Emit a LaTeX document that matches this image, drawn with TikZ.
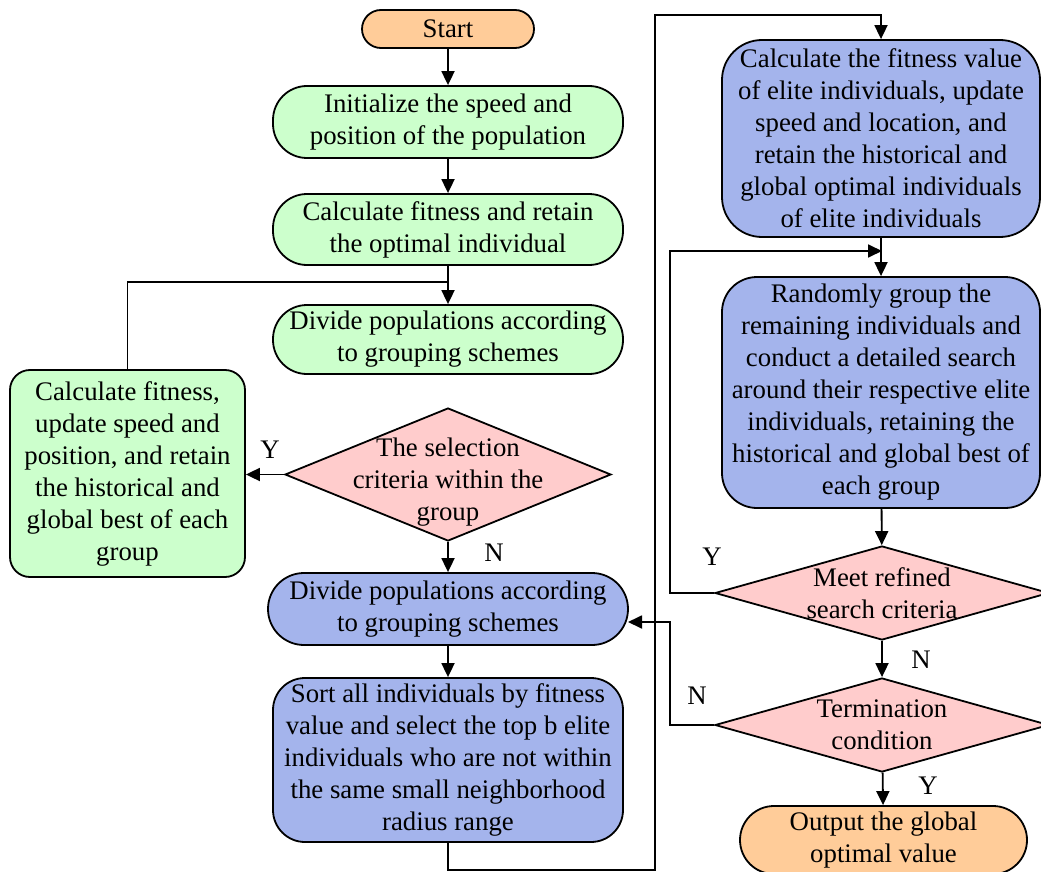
\documentclass[tikz,border=0pt]{standalone}
\usepackage{fontspec}
\setmainfont{Liberation Serif}
\usetikzlibrary{shapes.geometric,arrows.meta}
\definecolor{cgreen}{RGB}{204,255,204}
\definecolor{corange}{RGB}{255,204,153}
\definecolor{cpink}{RGB}{255,204,204}
\definecolor{cblue}{RGB}{164,180,236}
\begin{document}
\begin{tikzpicture}[x=1pt,y=1pt,
  font=\fontsize{26.8}{32}\selectfont,
  box/.style={draw, line width=1.8pt, rectangle, inner sep=0pt, align=center},
  dia/.style={draw, line width=1.8pt, diamond, inner sep=0pt, fill=cpink},
  txt/.style={inner sep=0pt, align=center},
  line/.style={line width=1.8pt},
  arr/.style={line width=1.8pt, -{Triangle[length=14pt,width=13pt]}},
  lbl/.style={inner sep=0pt}
]
\useasboundingbox (0,0) rectangle (1041,-872);
% nodes
\node[box, fill=corange, rounded corners=19pt, minimum width=172pt, minimum height=38pt] (start) at (448,-29) {Start};
\node[box, fill=cgreen, rounded corners=34pt, minimum width=350pt, minimum height=72pt] (init) at (448,-122) {Initialize the speed and\\position of the population};
\node[box, fill=cgreen, rounded corners=34pt, minimum width=350pt, minimum height=71pt] (calc) at (448,-229.5) {Calculate fitness and retain\\the optimal individual};
\node[box, fill=cgreen, rounded corners=34pt, minimum width=350pt, minimum height=69pt] (div1) at (448,-339.5) {Divide populations according\\to grouping schemes};
\node[dia, minimum width=326pt, minimum height=133pt] (d1) at (448,-474.5) {};
\node[txt] at (448,-482) {The selection\\criteria within the\\group};
\node[box, fill=cgreen, rounded corners=20pt, minimum width=235pt, minimum height=207pt] (left) at (127.5,-473.5) {Calculate fitness,\\update speed and\\position, and retain\\the historical and\\global best of each\\group};
\node[box, fill=cblue, rounded corners=36pt, minimum width=360pt, minimum height=72pt] (div2) at (448,-609) {Divide populations according\\to grouping schemes};
\node[box, fill=cblue, rounded corners=32pt, minimum width=350pt, minimum height=164pt] (sort) at (448,-760) {Sort all individuals by fitness\\value and select the top b elite\\individuals who are not within\\the same small neighborhood\\radius range};
\node[box, fill=cblue, rounded corners=40pt, minimum width=318pt, minimum height=197pt] (elite) at (881,-138.5) {Calculate the fitness value\\of elite individuals, update\\speed and location, and\\retain the historical and\\global optimal individuals\\of elite individuals};
\node[box, fill=cblue, rounded corners=35pt, minimum width=318pt, minimum height=231pt] (rand) at (881,-392.5) {Randomly group the\\remaining individuals and\\conduct a detailed search\\around their respective elite\\individuals, retaining the\\historical and global best of\\each group};
\node[dia, minimum width=334pt, minimum height=94pt] (meet) at (882,-593) {};
\node[txt] at (882,-593) {Meet refined\\search criteria};
\node[dia, minimum width=334pt, minimum height=94pt] (term) at (882,-725) {};
\node[txt] at (882,-725) {Termination\\condition};
\node[box, fill=corange, rounded corners=34pt, minimum width=287pt, minimum height=68pt] (out) at (883.5,-840) {Output the global\\optimal value};
% helper coordinates
\coordinate (j1) at (448,-282);
\coordinate (c1) at (655,-870);
\coordinate (c2) at (655,-15);
\coordinate (j2) at (882,-251);
\coordinate (k1) at (670,-593);
\coordinate (k2) at (670,-725);
\coordinate (e2) at (628,-622);
% connectors
\draw[arr] (start) -- (init);
\draw[arr] (init) -- (calc);
\draw[arr] (calc) -- (div1);
\draw[line] (left.north) |- (j1);
\draw[arr] (d1.west) -- (d1.west -| left.east);
\draw[arr] (d1.south) -- (div2.north);
\draw[arr] (div2) -- (sort);
\draw[arr] (sort.south) |- (c1) -- (c2) -| (elite.north);
\draw[arr] (elite) -- (rand);
\draw[arr] (meet.west) -- (k1) |- (j2);
\draw[arr] (rand) -- (meet);
\draw[arr] (meet) -- (term);
\draw[arr] (term.west) -- (k2) |- (e2);
\draw[arr] (term) -- (out);
% labels
\node[lbl] (ly1) at (270,-450) {Y};
\node[lbl] (ln1) at (494,-553) {N};
\node[lbl] (ly2) at (712,-557) {Y};
\node[lbl] (ln2) at (921,-660) {N};
\node[lbl] (ln3) at (697,-696) {N};
\node[lbl] (ly3) at (928,-786) {Y};
\end{tikzpicture}
\end{document}
